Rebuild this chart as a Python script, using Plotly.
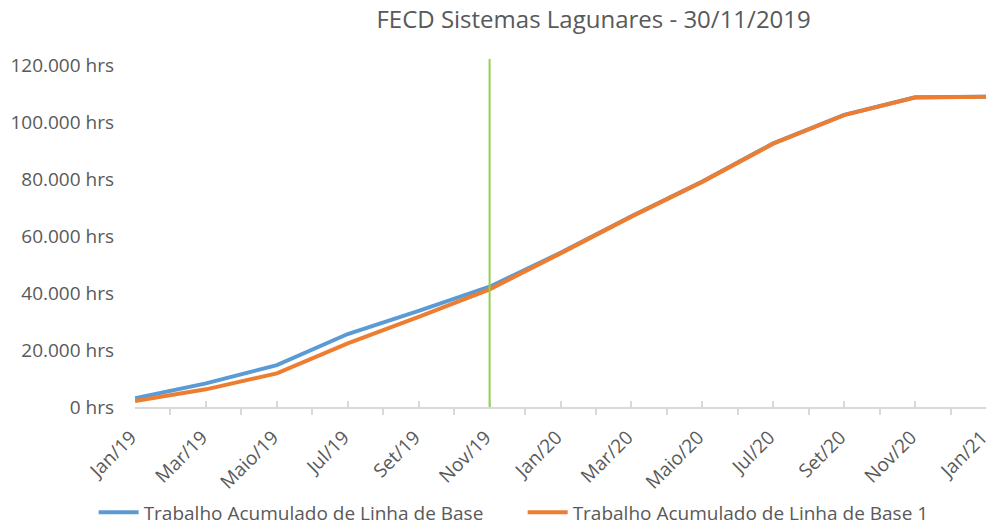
import plotly.graph_objects as go

month_labels = ["Jan/19", "Mar/19", "Maio/19", "Jul/19", "Set/19", "Nov/19", "Jan/20",
                "Mar/20", "Maio/20", "Jul/20", "Set/20", "Nov/20", "Jan/21"]
month_index = [0, 2, 4, 6, 8, 10, 12, 14, 16, 18, 20, 22, 24]
baseline = [3050, 8300, 14700, 25600, 33700, 42200, 54100, 66900, 79100, 92500, 102500, 108700, 108900]
baseline1 = [2100, 6200, 11800, 22300, 31600, 41300, 53900, 66800, 79000, 92400, 102400, 108600, 108900]
y_ticks = [0, 20000, 40000, 60000, 80000, 100000, 120000]
y_tick_text = ["0 hrs", "20.000 hrs", "40.000 hrs", "60.000 hrs", "80.000 hrs", "100.000 hrs", "120.000 hrs"]
status_date_index = 10

font_family = "Open Sans, Liberation Sans, sans-serif"
grey = "#595959"

fig = go.Figure()
fig.add_trace(go.Scatter(x=month_index, y=baseline, mode="lines",
                         name="Trabalho Acumulado de Linha de Base",
                         line=dict(color="#5B9BD5", width=4)))
fig.add_trace(go.Scatter(x=month_index, y=baseline1, mode="lines",
                         name="Trabalho Acumulado de Linha de Base 1",
                         line=dict(color="#ED7D31", width=4)))

fig.add_shape(type="line", xref="x", yref="paper",
              x0=status_date_index, x1=status_date_index, y0=0, y1=1.0175,
              line=dict(color="#92D050", width=2))

fig.update_layout(
    width=991, height=526,
    margin=dict(l=135, r=5, t=65, b=119, autoexpand=False),
    paper_bgcolor="white", plot_bgcolor="white",
    font=dict(family=font_family, color=grey, size=19),
    title=dict(text="FECD Sistemas Lagunares - 30/11/2019", x=0.599, xanchor="center",
               y=0.962, yanchor="middle", font=dict(size=24, color=grey)),
    showlegend=True,
    legend=dict(orientation="h", x=-0.0486, xanchor="left", y=-0.364, yanchor="bottom",
                font=dict(size=19, color=grey), itemwidth=40, tracegroupgap=0,
                entrywidth=374),
    xaxis=dict(range=[-0.001, 24.001], tickmode="array", tickvals=month_index, ticktext=month_labels,
               tickangle=-45, showgrid=False, zeroline=False, automargin=False,
               ticklabeloverflow="allow", ticklabelstandoff=10, ticklabelshift=-4,
               showline=True, linecolor="#d9d9d9", linewidth=1.5,
               ticks="inside", ticklen=6, tickcolor="#d9d9d9", tickwidth=1.5,
               minor=dict(tickvals=[m + 1 for m in month_index[:-1]], ticks="outside",
                          ticklen=6, tickcolor="#d9d9d9", tickwidth=1.5, showgrid=False),
               tickfont=dict(size=19, color=grey)),
    yaxis=dict(range=[0, 120000], tickmode="array", tickvals=y_ticks, ticktext=y_tick_text,
               showgrid=False, zeroline=False, showline=False, ticks="", ticklabelstandoff=20,
               automargin=False, tickfont=dict(size=19, color=grey)),
)

fig.write_html("out.html", config={"displayModeBar": False},
               post_script="document.body.style.margin='0';document.body.style.overflow='hidden';")
